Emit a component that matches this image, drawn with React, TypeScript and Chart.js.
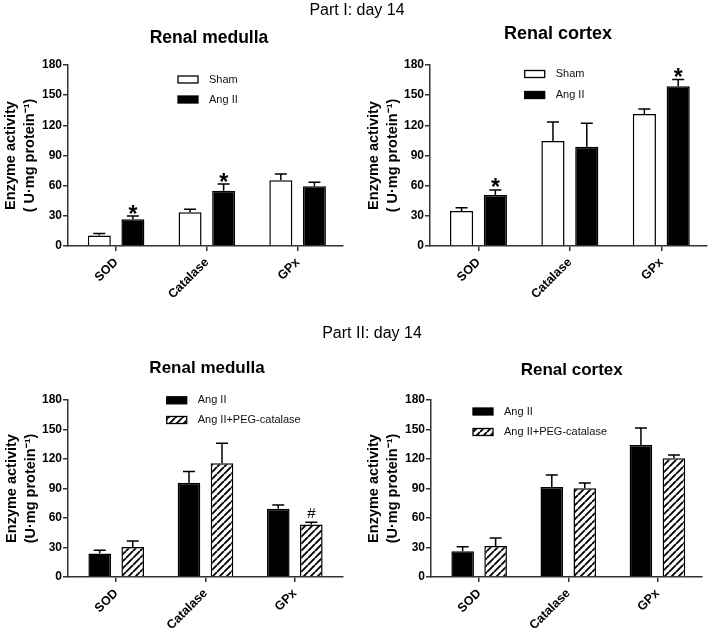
import React, { useEffect, useRef } from 'react';
import { Chart, registerables } from 'chart.js';

Chart.register(...registerables);

const FONT = '"Liberation Sans", Arial, Helvetica, sans-serif';
Chart.defaults.font.family = FONT;

// ---------- data ----------
const categories = ['SOD', 'Catalase', 'GPx'];
const yTickValues = [0, 30, 60, 90, 120, 150, 180];

// Part I, renal medulla
const p1ShamValues = [10.5, 33.5, 65.3];
const p1ShamErrors = [2.0, 3.0, 6.3];
const p1ShamMarks = ['', '', ''];
const p1AngValues = [26.5, 55.0, 59.3];
const p1AngErrors = [3.3, 6.6, 4.0];
const p1AngMarks = ['*', '*', ''];

// Part I, renal cortex
const p2ShamValues = [34.8, 104.4, 131.3];
const p2ShamErrors = [3.3, 18.9, 4.9];
const p2ShamMarks = ['', '', ''];
const p2AngValues = [50.7, 98.8, 158.8];
const p2AngErrors = [5.0, 23.2, 6.9];
const p2AngMarks = ['*', '', '*'];

// Part II, renal medulla
const p3AngValues = [23.8, 95.9, 69.4];
const p3AngErrors = [3.4, 11.3, 3.7];
const p3AngMarks = ['', '', ''];
const p3PegValues = [30.6, 115.7, 53.4];
const p3PegErrors = [6.1, 20.4, 2.4];
const p3PegMarks = ['', '', '#'];

// Part II, renal cortex
const p4AngValues = [26.1, 91.5, 134.2];
const p4AngErrors = [4.7, 12.2, 17.3];
const p4AngMarks = ['', '', ''];
const p4PegValues = [31.5, 90.2, 120.7];
const p4PegErrors = [8.2, 5.4, 3.4];
const p4PegMarks = ['', '', ''];

// ---------- types ----------
type Fill = 'white' | 'black' | 'hatch';
type Series = { label: string; values: number[]; errors: number[]; marks: string[]; fill: Fill };
type PanelCfg = {
  left: number; top: number; width: number; height: number;
  pad: { top: number; right: number };
  yWidth: number; xHeight: number;
  xMin: number; xMax: number;
  yTitle: string[]; yTitlePad: number;
  legend: { dx: number; dy: number; gap: number };
  series: Series[];
};

const AXIS = '#333333';

function makeHatch(ctx: CanvasRenderingContext2D): CanvasPattern | string {
  const s = 7;
  const c = document.createElement('canvas');
  c.width = s; c.height = s;
  const g = c.getContext('2d');
  if (!g) return '#fff';
  g.fillStyle = '#fff';
  g.fillRect(0, 0, s, s);
  g.strokeStyle = '#000';
  g.lineWidth = 1.9;
  g.beginPath();
  for (const k of [-s, 0, s]) { g.moveTo(k, s); g.lineTo(k + s, 0); }
  g.stroke();
  return ctx.createPattern(c, 'repeat') || '#fff';
}

function Panel({ cfg }: { cfg: PanelCfg }) {
  const ref = useRef<HTMLCanvasElement>(null);
  useEffect(() => {
    const canvas = ref.current;
    if (!canvas) return;
    const ctx0 = canvas.getContext('2d') as CanvasRenderingContext2D;
    const hatch = makeHatch(ctx0);
    const fillOf = (f: Fill) => (f === 'black' ? '#000' : f === 'white' ? '#fff' : hatch);

    const errorPlugin = {
      id: 'errbars',
      afterDatasetsDraw(chart: any) {
        const ctx = chart.ctx as CanvasRenderingContext2D;
        const ys = chart.scales.y;
        cfg.series.forEach((s, i) => {
          const meta = chart.getDatasetMeta(i);
          meta.data.forEach((bar: any, j: number) => {
            const v = s.values[j];
            const e = s.errors[j];
            const yTop = ys.getPixelForValue(v);
            const yE = ys.getPixelForValue(v + e);
            ctx.save();
            ctx.strokeStyle = '#000';
            ctx.lineWidth = 1.5;
            ctx.beginPath();
            ctx.moveTo(bar.x, yTop);
            ctx.lineTo(bar.x, yE);
            ctx.moveTo(bar.x - 6, yE);
            ctx.lineTo(bar.x + 6, yE);
            ctx.stroke();
            const mark = s.marks[j];
            if (mark) {
              ctx.fillStyle = '#000';
              ctx.font = mark === '*' ? `bold 23px ${FONT}` : `15px ${FONT}`;
              ctx.textAlign = 'center';
              ctx.textBaseline = 'alphabetic';
              const m = ctx.measureText(mark);
              const gap = mark === '*' ? 2.5 : 4.5;
              ctx.fillText(mark, bar.x, yE - gap - m.actualBoundingBoxDescent);
            }
            ctx.restore();
          });
        });
      },
    };

    const legendPlugin = {
      id: 'boxLegend',
      afterDraw(chart: any) {
        const ctx = chart.ctx as CanvasRenderingContext2D;
        const ca = chart.chartArea;
        cfg.series.forEach((s, i) => {
          const bx = ca.left + cfg.legend.dx;
          const cy = ca.top + cfg.legend.dy + i * cfg.legend.gap;
          ctx.save();
          ctx.fillStyle = fillOf(s.fill) as any;
          ctx.fillRect(bx, cy - 3.5, 20, 7);
          ctx.strokeStyle = '#000';
          ctx.lineWidth = 1.3;
          ctx.strokeRect(bx, cy - 3.5, 20, 7);
          ctx.fillStyle = '#111';
          ctx.font = `11px ${FONT}`;
          ctx.textAlign = 'left';
          ctx.textBaseline = 'middle';
          ctx.fillText(s.label, bx + 31, cy);
          ctx.restore();
        });
      },
    };

    const chart = new Chart(canvas, {
      type: 'bar',
      data: {
        datasets: cfg.series.map((s) => ({
          label: s.label,
          data: s.values.map((v, i) => ({ x: i, y: v })),
          backgroundColor: fillOf(s.fill) as any,
          borderColor: '#000',
          borderWidth: 1.5,
          categoryPercentage: 0.74,
          barPercentage: 0.685,
        })),
      },
      options: {
        animation: false,
        responsive: false,
        maintainAspectRatio: false,
        layout: { padding: { top: cfg.pad.top, right: cfg.pad.right, left: 0, bottom: 0 } },
        plugins: { legend: { display: false }, tooltip: { enabled: false } },
        scales: {
          x: {
            type: 'linear',
            min: cfg.xMin,
            max: cfg.xMax,
            offset: false,
            afterBuildTicks: (sc: any) => { sc.ticks = categories.map((_, i) => ({ value: i })); },
            afterFit: (sc: any) => { sc.height = cfg.xHeight; },
            grid: { offset: false, drawOnChartArea: false, drawTicks: true, tickLength: 5, color: AXIS, lineWidth: 1.5 },
            border: { display: true, color: AXIS, width: 1.5 },
            ticks: {
              autoSkip: false,
              maxRotation: 45,
              minRotation: 45,
              padding: 4,
              color: '#000',
              font: { size: 12.5, weight: 'bold' },
              callback: (_v: any, i: number) => categories[i],
            },
          },
          y: {
            type: 'linear',
            min: yTickValues[0],
            max: yTickValues[yTickValues.length - 1],
            afterFit: (sc: any) => { sc.width = cfg.yWidth; },
            grid: { drawOnChartArea: false, drawTicks: true, tickLength: 5, color: AXIS, lineWidth: 1.5 },
            border: { display: true, color: AXIS, width: 1.5 },
            ticks: {
              stepSize: yTickValues[1] - yTickValues[0],
              padding: 1,
              color: '#000',
              font: { size: 12, weight: 'bold' },
            },
            title: {
              display: true,
              text: cfg.yTitle,
              color: '#000',
              font: { size: 14.5, weight: 'bold', lineHeight: '19px' },
              padding: { top: cfg.yTitlePad, bottom: 0 },
            },
          },
        },
      } as any,
      plugins: [errorPlugin, legendPlugin],
    });
    return () => chart.destroy();
  }, [cfg]);
  return (
    <canvas
      ref={ref}
      width={cfg.width}
      height={cfg.height}
      style={{ position: 'absolute', left: cfg.left, top: cfg.top, width: cfg.width, height: cfg.height }}
    />
  );
}

function Label({ text, cx, capTop, size, bold }: { text: string; cx: number; capTop: number; size: number; bold?: boolean }) {
  return (
    <div
      style={{
        position: 'absolute',
        left: cx,
        top: capTop - 0.13 * size,
        transform: 'translateX(-50%)',
        fontFamily: FONT,
        fontSize: size,
        lineHeight: `${size}px`,
        fontWeight: bold ? 'bold' : 'normal',
        whiteSpace: 'nowrap',
        color: '#000',
      }}
    >
      {text}
    </div>
  );
}

const yTitleA = ['Enzyme activity', '( U\u00b7mg protein\u207b\u00b9)'];
const yTitleB = ['Enzyme activity', '(U\u00b7mg protein\u207b\u00b9)'];

const panels: PanelCfg[] = [
  {
    left: 0, top: 0, width: 354, height: 320,
    pad: { top: 65, right: 11 }, yWidth: 68, xHeight: 74,
    xMin: -0.53, xMax: 2.5, yTitle: yTitleA, yTitlePad: 1.5,
    legend: { dx: 110, dy: 14.5, gap: 20 },
    series: [
      { label: 'Sham', values: p1ShamValues, errors: p1ShamErrors, marks: p1ShamMarks, fill: 'white' },
      { label: 'Ang II', values: p1AngValues, errors: p1AngErrors, marks: p1AngMarks, fill: 'black' },
    ],
  },
  {
    left: 354, top: 0, width: 355, height: 320,
    pad: { top: 65, right: 2 }, yWidth: 76, xHeight: 74,
    xMin: -0.53, xMax: 2.5, yTitle: yTitleA, yTitlePad: 10.5,
    legend: { dx: 94.7, dy: 9, gap: 21 },
    series: [
      { label: 'Sham', values: p2ShamValues, errors: p2ShamErrors, marks: p2ShamMarks, fill: 'white' },
      { label: 'Ang II', values: p2AngValues, errors: p2AngErrors, marks: p2AngMarks, fill: 'black' },
    ],
  },
  {
    left: 0, top: 320, width: 354, height: 315,
    pad: { top: 80, right: 11 }, yWidth: 68, xHeight: 58,
    xMin: -0.54, xMax: 2.54, yTitle: yTitleB, yTitlePad: 2,
    legend: { dx: 98.7, dy: 0.3, gap: 19.7 },
    series: [
      { label: 'Ang II', values: p3AngValues, errors: p3AngErrors, marks: p3AngMarks, fill: 'black' },
      { label: 'Ang II+PEG-catalase', values: p3PegValues, errors: p3PegErrors, marks: p3PegMarks, fill: 'hatch' },
    ],
  },
  {
    left: 354, top: 320, width: 355, height: 315,
    pad: { top: 80, right: 7 }, yWidth: 77, xHeight: 58,
    xMin: -0.54, xMax: 2.5, yTitle: yTitleB, yTitlePad: 10.5,
    legend: { dx: 42, dy: 11.5, gap: 20.5 },
    series: [
      { label: 'Ang II', values: p4AngValues, errors: p4AngErrors, marks: p4AngMarks, fill: 'black' },
      { label: 'Ang II+PEG-catalase', values: p4PegValues, errors: p4PegErrors, marks: p4PegMarks, fill: 'hatch' },
    ],
  },
];

export default function App() {
  return (
    <div style={{ position: 'absolute', left: 0, top: 0, width: 709, height: 635, background: '#fff', overflow: 'hidden' }}>
      {panels.map((p, i) => (
        <Panel key={i} cfg={p} />
      ))}
      <Label text="Part I: day 14" cx={357} capTop={4} size={16} />
      <Label text="Part II: day 14" cx={372} capTop={327} size={16} />
      <Label text="Renal medulla" cx={209} capTop={31.7} size={17.5} bold />
      <Label text="Renal cortex" cx={558} capTop={26.7} size={18} bold />
      <Label text="Renal medulla" cx={207} capTop={361.7} size={17} bold />
      <Label text="Renal cortex" cx={571.7} capTop={363.3} size={17} bold />
    </div>
  );
}
